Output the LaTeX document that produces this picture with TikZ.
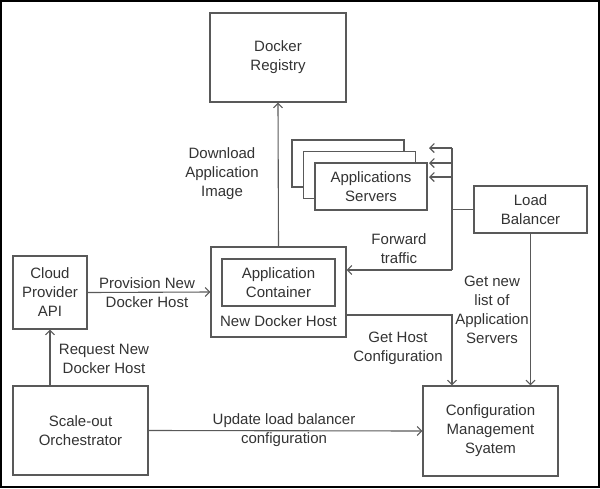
\documentclass[tikz,border=0pt]{standalone}
\usepackage{fontspec}
\setmainfont{Liberation Sans}
\usetikzlibrary{arrows.meta}
\definecolor{boxgray}{gray}{0.35}
\definecolor{textgray}{gray}{0.2}

\begin{document}
\begin{tikzpicture}[x=1pt,y=-1pt,
  every node/.style={font=\fontsize{15}{19}\selectfont,text=textgray},
  box/.style={draw=boxgray,line width=1.1pt,fill=white,align=center,inner sep=0pt},
  lbl/.style={align=center,inner sep=0pt},
  wire/.style={draw=boxgray,line width=1.1pt},
  link/.style={wire,-{Straight Barb[length=4.5pt,width=9pt]}}]
\useasboundingbox (0,0) rectangle (600,488);
\draw[line width=2pt] (1,1) rectangle (599,487);

\node[box,minimum width=136pt,minimum height=89pt] (registry) at (278,57.5) {Docker\\Registry};
\node[box,minimum width=112pt,minimum height=47pt] (srvback) at (348,163.5) {};
\node[box,minimum width=112pt,minimum height=47pt] (srvmid) at (359.5,175) {};
\node[box,minimum width=112pt,minimum height=47pt] (srvfront) at (371,186.5) {Applications\\Servers};
\node[box,minimum width=113pt,minimum height=47pt] (balancer) at (530.5,209.5) {Load\\Balancer};
\node[box,minimum width=135pt,minimum height=90pt] (host) at (278.5,292) {};
\node[box,minimum width=113pt,minimum height=47pt] (container) at (278.5,282.5) {Application\\Container};
\node (hostlbl) at (278.5,321) {New Docker Host};
\node[box,minimum width=74pt,minimum height=73pt] (cloud) at (50,292.5) {Cloud\\Provider\\API};
\node[box,minimum width=135pt,minimum height=89pt] (orch) at (80.5,430.5) {Scale-out\\Orchestrator};
\node[box,minimum width=135pt,minimum height=90pt] (config) at (490.5,431) {Configuration\\Management\\Syatem};

\node[lbl] (dllbl) at (222,173.5) {Download\\Application\\Image};
\node[lbl] (fwdlbl) at (399,249) {Forward\\traffic};
\node[lbl] (provlbl) at (147,292.5) {Provision New\\Docker Host};
\node[lbl] (reqlbl) at (104,358.5) {Request New\\Docker Host};
\node[lbl] (hostcfglbl) at (398,348) {Get Host\\Configuration};
\node[lbl] (listlbl) at (492,310) {Get new\\list of\\Application\\Servers};
\node[lbl] (updlbl) at (284,430) {Update load balancer\\configuration};

\coordinate (fan) at (452,209.5);
\coordinate (fana) at (452,148);
\coordinate (fanb) at (452,163);
\coordinate (fanc) at (452,177);
\coordinate (fwdturn) at (452,270);
\coordinate (cfgturn) at (452,315);

\draw[link] (host.north) -- (registry.south);
\draw[link] (cloud.east) -- (host.west);
\draw[link] (cloud.south |- orch.north) -- (cloud.south);
\draw[link] (orch.east) -- (config.west);
\draw[wire] (balancer.west) -- (fan);
\draw[wire] (fana) -- (fwdturn);
\draw[link] (fana) -- ++(-23,0);
\draw[link] (fanb) -- ++(-23,0);
\draw[link] (fanc) -- ++(-23,0);
\draw[link] (fwdturn) -- (fwdturn -| host.east);
\draw[link] (cfgturn -| host.east) -- (cfgturn) -- (cfgturn |- config.north);
\draw[link] (balancer.south) -- (balancer.south |- config.north);
\end{tikzpicture}
\end{document}
